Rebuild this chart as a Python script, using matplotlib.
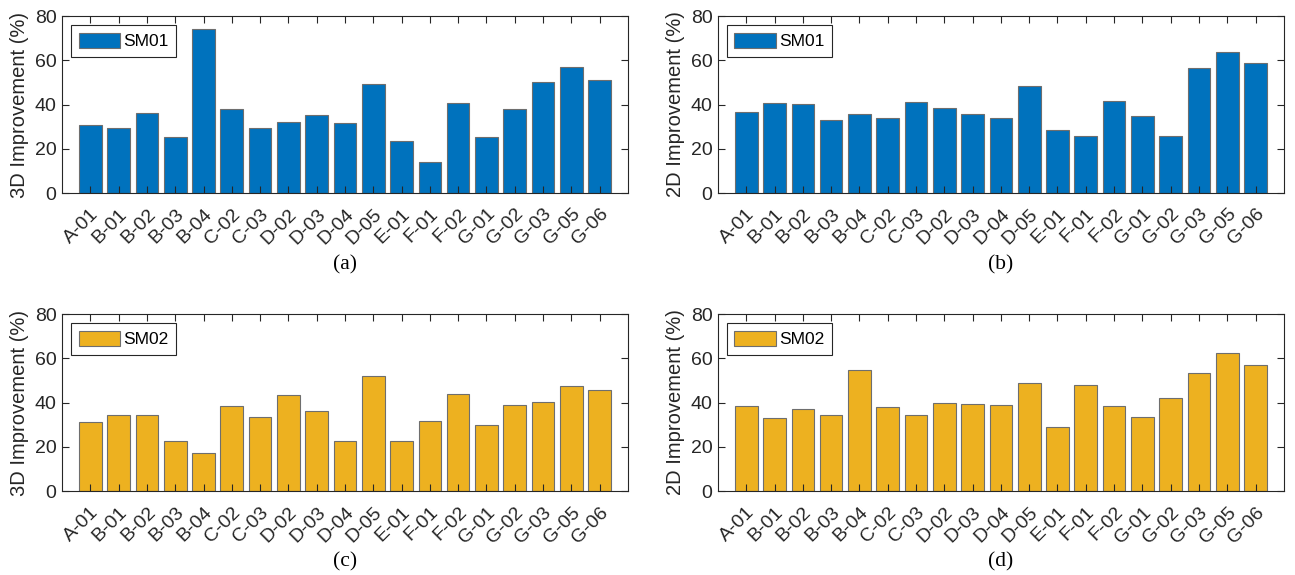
import numpy as np
import matplotlib.pyplot as plt

plt.rcParams['font.family'] = ['Liberation Sans', 'DejaVu Sans']

# 样本名称
names = ['A-01', 'B-01', 'B-02', 'B-03', 'B-04', 'C-02', 'C-03', 'D-02', 'D-03', 'D-04',
         'D-05', 'E-01', 'F-01', 'F-02', 'G-01', 'G-02', 'G-03', 'G-05', 'G-06']

# 各子图数据
sm01_3d = [30.6, 29.2, 36.3, 25.3, 74.1, 38.0, 29.5, 31.9, 35.3, 31.6,
           49.3, 23.5, 14.0, 40.5, 25.1, 38.1, 50.2, 57.1, 51.2]
sm01_2d = [36.4, 40.8, 40.2, 32.8, 35.8, 34.1, 41.1, 38.5, 35.8, 33.8,
           48.5, 28.3, 25.7, 41.7, 35.0, 25.6, 56.5, 63.8, 59.0]
sm02_3d = [31.1, 34.4, 34.2, 22.5, 17.1, 38.6, 33.5, 43.4, 36.3, 22.7,
           51.8, 22.4, 31.7, 43.7, 29.7, 39.0, 40.2, 47.3, 45.6]
sm02_2d = [38.3, 32.8, 37.2, 34.2, 54.5, 38.0, 34.2, 39.9, 39.2, 38.9,
           49.0, 28.8, 47.9, 38.6, 33.4, 42.2, 53.5, 62.5, 57.1]

panels = [
    (sm01_3d, 'SM01', '#0072BD', '3D Improvement (%)', '(a)'),
    (sm01_2d, 'SM01', '#0072BD', '2D Improvement (%)', '(b)'),
    (sm02_3d, 'SM02', '#EDB120', '3D Improvement (%)', '(c)'),
    (sm02_2d, 'SM02', '#EDB120', '2D Improvement (%)', '(d)'),
]

fig = plt.figure(figsize=(12.95, 5.75), dpi=100)

# 子图位置
lefts = [0.0479, 0.5544]
bottoms = [0.6643, 0.146]
w, h = 0.437, 0.3078
cap_y = [0.539, 0.0226]

x = np.arange(1, len(names) + 1)
for k, (vals, lab, col, ylab, cap) in enumerate(panels):
    r, c = divmod(k, 2)
    ax = fig.add_axes([lefts[c], bottoms[r], w, h])
    ax.bar(x, vals, width=0.8, color=col, edgecolor='#6e6e6e', linewidth=0.8, label=lab)
    ax.set_xlim(0, 20)
    ax.set_ylim(0, 80)
    ax.set_yticks([0, 20, 40, 60, 80])
    ax.set_xticks(x)
    ax.set_xticklabels(names, rotation=45, ha='right', rotation_mode='anchor')
    ax.tick_params(direction='in', top=True, right=True, length=5, width=0.8,
                   labelsize=14, colors='#262626', pad=4)
    ax.tick_params(axis='x', pad=9)
    for s in ax.spines.values():
        s.set_color('#262626')
        s.set_linewidth(0.8)
    ax.set_ylabel(ylab, fontsize=14.5, color='#262626', labelpad=4)
    leg = ax.legend(loc='upper left', fontsize=12.5, fancybox=False, framealpha=1,
                    edgecolor='#262626', handlelength=2.4, handleheight=1.0,
                    borderpad=0.45, handletextpad=0.15, borderaxespad=0.5)
    leg.get_frame().set_linewidth(0.8)
    fig.text(lefts[c] + w / 2, cap_y[r], cap, ha='center', va='center',
             fontsize=15.5, family='Liberation Serif')

plt.savefig('out.png', dpi=100)
